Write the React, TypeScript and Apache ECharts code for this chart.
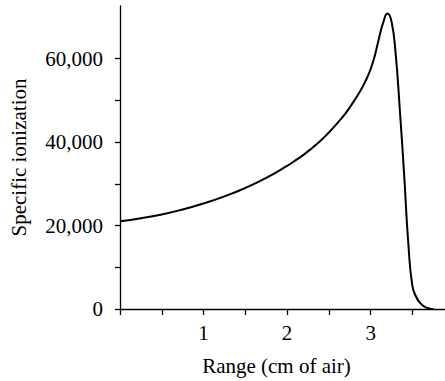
import React, { useEffect, useRef } from "react";
import * as echarts from "echarts";

const rangeCm = [0, 0.25, 0.5, 0.75, 1.0, 1.25, 1.5, 1.75, 2.0, 2.1, 2.2, 2.3, 2.4, 2.5, 2.6, 2.7, 2.75, 2.8, 2.85, 2.9, 2.95, 3.0, 3.05, 3.1, 3.15, 3.2, 3.25, 3.3, 3.35, 3.4, 3.45, 3.5, 3.55, 3.6, 3.65, 3.7, 3.75];
const ionization = [21000, 21750, 22650, 23850, 25300, 27000, 29000, 31400, 34300, 35600, 37000, 38600, 40300, 42300, 44500, 46900, 48300, 49800, 51400, 53100, 55100, 57500, 60700, 64900, 68600, 70800, 68900, 61000, 47500, 32500, 16000, 5500, 2700, 1300, 500, 150, 0];
const xTickValues = [0, 0.5, 1, 1.5, 2, 2.5, 3, 3.5];
const xLabelValues = [1, 2, 3];
const yTickValues = [0, 10000, 20000, 30000, 40000, 50000, 60000];
const yLabelValues = [0, 20000, 40000, 60000];

const FONT = "'Liberation Serif', 'Times New Roman', serif";

export default function App() {
  const ref = useRef<HTMLDivElement>(null);
  useEffect(() => {
    if (!ref.current) return;
    const chart = echarts.init(ref.current, null, { renderer: "svg" });
    const data = rangeCm.map((x, i) => [x, ionization[i]]);
    chart.setOption({
      animation: false,
      backgroundColor: "#fff",
      grid: { left: 118, top: 6, right: 0, bottom: 70 },
      xAxis: {
        type: "value",
        min: 0,
        max: 3.89,
        name: "Range (cm of air)",
        nameLocation: "middle",
        nameGap: 46,
        nameTextStyle: { fontFamily: FONT, fontSize: 21, color: "#000", padding: [0, 12, 0, 0] },
        axisLine: { show: true, lineStyle: { color: "#000", width: 1.3 } },
        axisTick: { show: true, customValues: xTickValues, length: 6, lineStyle: { color: "#000", width: 1.3 } },
        axisLabel: {
          customValues: xLabelValues,
          margin: 13,
          fontFamily: FONT,
          fontSize: 21,
          color: "#000",
          formatter: (v: number) => String(v),
        },
        splitLine: { show: false },
      },
      yAxis: {
        type: "value",
        min: 0,
        max: 72600,
        name: "Specific ionization",
        nameLocation: "middle",
        nameGap: 91,
        nameRotate: 90,
        nameTextStyle: { fontFamily: FONT, fontSize: 21, color: "#000" },
        axisLine: { show: true, lineStyle: { color: "#000", width: 1.3 } },
        axisTick: { show: true, customValues: yTickValues, length: 5, lineStyle: { color: "#000", width: 1.3 } },
        axisLabel: {
          customValues: yLabelValues,
          margin: 17,
          fontFamily: FONT,
          fontSize: 21,
          color: "#000",
          formatter: (v: number) => v.toLocaleString("en-US"),
        },
        splitLine: { show: false },
      },
      series: [
        {
          type: "line",
          data,
          smooth: 0.5,
          showSymbol: false,
          lineStyle: { color: "#000", width: 2 },
        },
      ],
    });
    return () => chart.dispose();
  }, []);
  return <div ref={ref} style={{ width: 445, height: 381, position: "absolute", left: 0, top: 0 }} />;
}
